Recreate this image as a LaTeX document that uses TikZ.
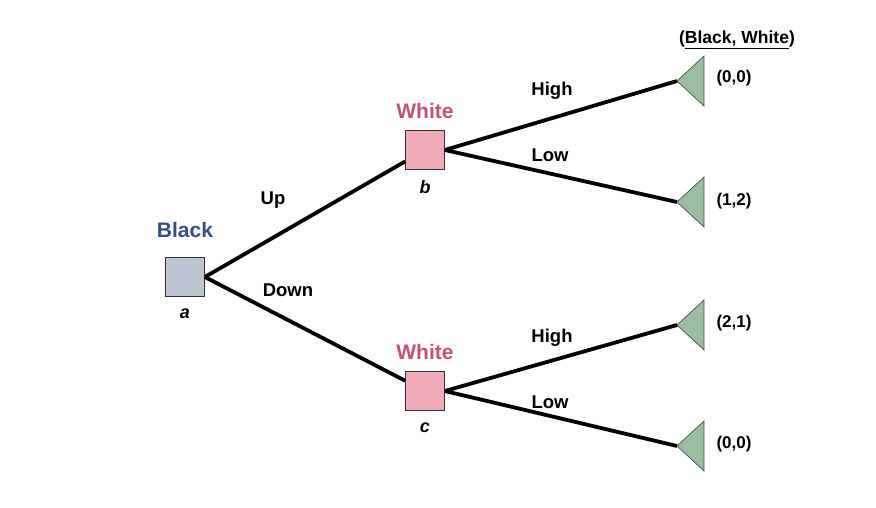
\documentclass[tikz,border=0pt]{standalone}
\usepackage{fontspec}
\setmainfont{Liberation Sans}
\usetikzlibrary{positioning, calc}

\definecolor{blackfill}{RGB}{190,198,212}
\definecolor{whitefill}{RGB}{240,170,184}
\definecolor{leaffill}{RGB}{154,190,160}
\definecolor{blackname}{RGB}{52,78,138}
\definecolor{whitename}{RGB}{194,82,112}

\begin{document}
\begin{tikzpicture}[x=1pt, y=-1pt]

\tikzstyle{move}=[draw=black!80, minimum size=39pt, inner sep=0pt, line width=0.7pt]
\tikzstyle{leaf}=[draw=black!70, fill=leaffill, line width=0.7pt, line join=miter]
\tikzstyle{branch}=[draw=black, line width=3.8pt]
\tikzstyle{player}=[font=\fontsize{21}{24}\selectfont\bfseries]
\tikzstyle{act}=[font=\fontsize{18.5}{21}\selectfont\bfseries]
\tikzstyle{pay}=[font=\fontsize{17}{20}\selectfont\bfseries]
\tikzstyle{tag}=[font=\fontsize{18}{20}\selectfont\bfseries\itshape]

\useasboundingbox (0,0) rectangle (876,507);

\node (na) at (185,277) [move, fill=blackfill] {};
\node (nb) at (425,150) [move, fill=whitefill] {};
\node (nc) at (425,391) [move, fill=whitefill] {};

\coordinate (l1) at (677,81);
\coordinate (l2) at (677,202);
\coordinate (l3) at (677,325);
\coordinate (l4) at (677,446);


\draw [branch] (na.east) -- (nb);
\draw [branch] (na.east) -- (nc);

\draw [branch] (nb.east) -- (l1);
\draw [branch] (nb.east) -- (l2);
\draw [branch] (nc.east) -- (l3);
\draw [branch] (nc.east) -- (l4);

\foreach \l in {l1,l2,l3,l4}
  \draw [leaf] (\l) -- ++(27,-25) -- ++(0,50) -- cycle;

\node [player, text=blackname, above=16pt of na] {Black};
\node [player, text=whitename, above=8pt of nb] {White};
\node [player, text=whitename, above=8pt of nc] {White};

\node [tag, below=8pt of na] {a};
\node [tag, below=7pt of nb] {b};
\node [tag, below=8pt of nc] {c};

\node [act] at (273,200) {Up};
\node [act] at (288,290) {Down};
\node [act] at (552,91) {High};
\node [act] at (550,155) {Low};
\node [act] at (552,338) {High};
\node [act] at (550,402) {Low};

\node [pay] at (734,78) {(0,0)};
\node [pay] at (734,201) {(1,2)};
\node [pay] at (734,323) {(2,1)};
\node [pay] at (734,444) {(0,0)};

\node [pay, font=\fontsize{17.5}{20}\selectfont\bfseries] at (737,40) {(\underline{Black, White})};

\end{tikzpicture}
\end{document}
